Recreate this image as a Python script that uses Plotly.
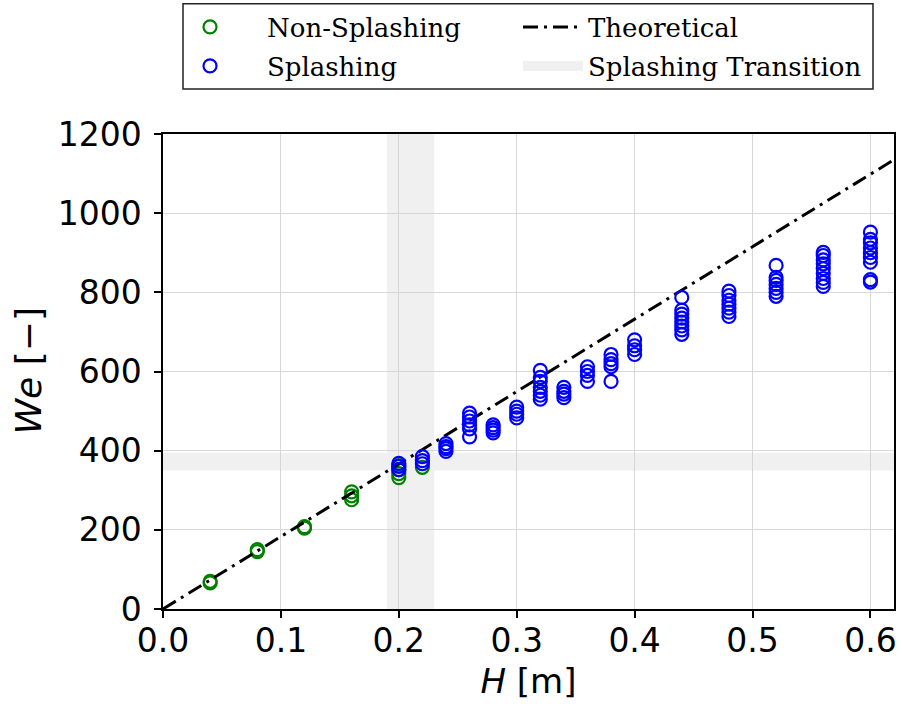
import plotly.graph_objects as go

# ---------------- data ----------------
ns_H = [0.04, 0.04, 0.08, 0.08, 0.12, 0.12, 0.16, 0.16, 0.16, 0.20, 0.20, 0.20, 0.20, 0.22]
ns_We = [66, 70, 145, 150, 204, 208, 276, 286, 296, 332, 342, 352, 362, 358]

sp_H = ([0.20] * 3 + [0.22] * 3 + [0.24] * 4 + [0.26] * 6 + [0.28] * 4 + [0.30] * 4 +
        [0.32] * 7 + [0.34] * 4 + [0.36] * 4 + [0.38] * 5 + [0.40] * 4 + [0.44] * 8 +
        [0.48] * 7 + [0.52] * 7 + [0.56] * 9 + [0.60] * 9)
sp_We = [352, 360, 368,
         367, 375, 385,
         398, 405, 410, 418,
         435, 455, 465, 475, 485, 495,
         445, 452, 458, 465,
         483, 492, 500, 510,
         530, 540, 550, 560, 575, 585, 603,
         534, 543, 550, 560,
         575, 590, 600, 612,
         575, 612, 620, 630, 643,
         643, 655, 665, 680,
         694, 705, 715, 725, 735, 745, 755, 787,
         739, 750, 760, 770, 780, 792, 803,
         790, 800, 810, 820, 830, 838, 868,
         815, 825, 835, 848, 860, 872, 882, 893, 901,
         826, 832, 876, 888, 900, 912, 925, 934, 952]

theo_H = [0.0, 0.62]
theo_We = [0, 1135]

trans_H = [0.19, 0.23]
trans_We = [350, 395]

x_range = [0, 0.62]
y_range = [0, 1200]
x_ticks = [0.0, 0.1, 0.2, 0.3, 0.4, 0.5, 0.6]
x_ticklabels = ["0.0", "0.1", "0.2", "0.3", "0.4", "0.5", "0.6"]
y_ticks = [0, 200, 400, 600, 800, 1000, 1200]
y_ticklabels = ["0", "200", "400", "600", "800", "1000", "1200"]

BAND_COLOR = "rgba(205,205,205,0.3)"

# ---------------- figure ----------------
fig = go.Figure()

band_x = ([trans_H[0], trans_H[1], trans_H[1], trans_H[0], trans_H[0], None,
           x_range[0], x_range[1], x_range[1], x_range[0], x_range[0]])
band_y = ([y_range[0], y_range[0], y_range[1], y_range[1], y_range[0], None,
           trans_We[0], trans_We[0], trans_We[1], trans_We[1], trans_We[0]])
fig.add_trace(go.Scatter(
    x=band_x, y=band_y, mode="none", fill="toself",
    fillcolor=BAND_COLOR, name="Splashing Transition", legendgroup="trans",
    showlegend=False, hoverinfo="skip"))

fig.add_trace(go.Scatter(
    x=ns_H, y=ns_We, mode="markers", name="Non-Splashing", legend="legend",
    marker=dict(symbol="circle-open", size=13, color="#008000", line=dict(width=2.2))))

fig.add_trace(go.Scatter(
    x=theo_H, y=theo_We, mode="lines", name="Theoretical", legend="legend2",
    line=dict(color="black", width=3, dash="15px,6px,3px,6px")))

fig.add_trace(go.Scatter(
    x=sp_H, y=sp_We, mode="markers", name="Splashing", legend="legend3",
    marker=dict(symbol="circle-open", size=13, color="#0000ff", line=dict(width=2.2))))

# legend handle for the shaded transition bands
fig.add_trace(go.Scatter(
    x=[None], y=[None], mode="lines", name="Splashing Transition",
    legend="legend4", legendgroup="trans",
    line=dict(color="#f0f0f0", width=20)))

axis_common = dict(
    showline=True, linecolor="black", linewidth=1.5, mirror=True,
    ticks="outside", ticklen=7, tickwidth=1.5, tickcolor="black",
    showgrid=True, gridcolor="#d8d8d8", gridwidth=1.2, zeroline=False,
    automargin=False,
    tickfont=dict(family="DejaVu Sans", size=33, color="black"),
)

fig.update_xaxes(range=x_range, tickvals=x_ticks, ticktext=x_ticklabels,
                 ticklabelstandoff=-5,
                 title=dict(text="<i>H</i> [m]", font=dict(family="DejaVu Sans", size=34, color="black"), standoff=10),
                 **axis_common)
fig.update_yaxes(range=y_range, tickvals=y_ticks, ticktext=y_ticklabels,
                 ticklabelstandoff=6,
                 **axis_common)

fig.add_annotation(text="<i>We</i> [\u2212]", xref="paper", yref="paper",
                   x=(28 - 163) / 731, y=0.5, xanchor="center", yanchor="middle",
                   textangle=-90, showarrow=False,
                   font=dict(family="DejaVu Sans", size=36, color="black"))

leg_font = dict(family="DejaVu Serif", size=26, color="black")
col1_x = (268 - 115 - 163) / 731
col2_x = (589 - 71 - 163) / 731
row1_y = 1 - 27 / 704
row2_y = 1 - 66 / 704


def leg(x, y, w):
    return dict(orientation="v", xanchor="left", yanchor="middle", x=x, y=y,
                yref="container",
                itemwidth=w, font=leg_font, bgcolor="rgba(0,0,0,0)", borderwidth=0)


fig.update_layout(
    width=902, height=704,
    margin=dict(l=163, r=8, t=134, b=95),
    plot_bgcolor="white", paper_bgcolor="white",
    legend=leg(col1_x, row1_y, 104),
    legend2=leg(col2_x, row1_y, 60),
    legend3=leg(col1_x, row2_y, 104),
    legend4=leg(col2_x, row2_y, 60),
    showlegend=True,
)

# legend frame
fig.add_shape(type="rect", xref="paper", yref="paper",
              x0=(183 - 163) / 731, x1=(873 - 163) / 731,
              y0=(609 - 90) / 474, y1=(609 - 5) / 474,
              line=dict(color="#222222", width=1.5), fillcolor="rgba(0,0,0,0)",
              layer="above")

fig.write_html("out.html", config={"displayModeBar": False},
               post_script="document.body.style.margin='0';")
